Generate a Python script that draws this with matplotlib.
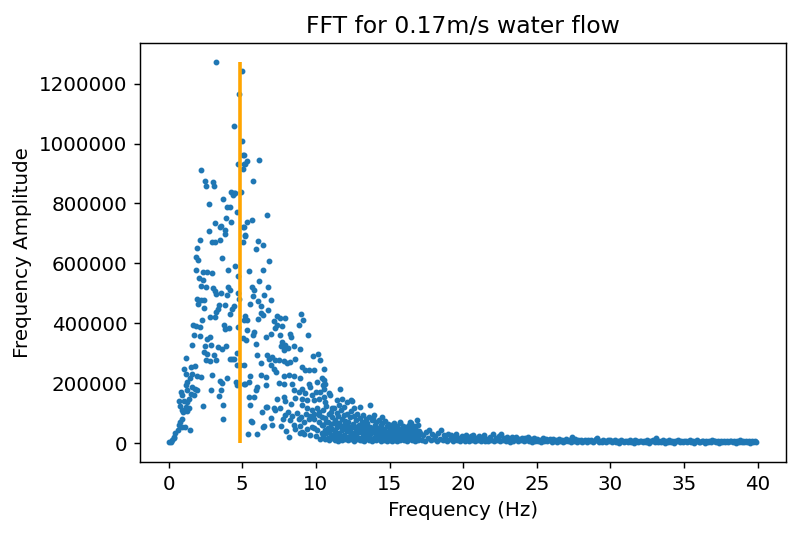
import matplotlib
matplotlib.use("Agg")
import matplotlib.pyplot as plt
import numpy as np

# amplitudes below are in thousands
title = "FFT for 0.17m/s water flow"
line_freq = 4.84   # orange marker line (Hz)

# main peak, amplitude above ~600k
peak_pts = [(3.21, 1271), (4.81, 1166), (4.95, 1243), (4.45, 1059), (5.0, 1007), (5.04, 962),
            (4.7, 931), (5.1, 931), (5.02, 915), (2.19, 913), (2.44, 874), (3.0, 873),
            (2.53, 858), (3.05, 857), (4.27, 837), (4.43, 834), (4.54, 835), (4.38, 827),
            (4.9, 838), (2.71, 799), (3.71, 816), (3.95, 788), (4.16, 787), (4.66, 773),
            (3.91, 751), (4.25, 738), (3.16, 735), (3.46, 722), (3.55, 724), (3.86, 712),
            (3.82, 698), (2.76, 709), (2.15, 679), (2.98, 673), (3.12, 672), (3.48, 678),
            (1.94, 651), (5.04, 672), (5.06, 722), (5.17, 696), (5.15, 962), (5.33, 942),
            (5.17, 931), (6.15, 945), (5.74, 874), (6.71, 761), (5.65, 744), (5.33, 738),
            (5.11, 723), (5.22, 693), (6.08, 676), (6.44, 663), (5.9, 648), (1.83, 623),
            (2.01, 610), (3.64, 618), (6.85, 607)]

# rising side, 0 - 5.2 Hz
rise_pts = [(4.54, 590), (1.83, 577), (2.35, 573), (2.62, 571), (2.92, 567), (4.02, 577),
            (4.72, 557), (2.06, 551), (2.33, 546), (2.17, 524), (2.55, 521), (3.0, 518),
            (3.14, 507), (3.23, 498), (4.04, 522), (4.16, 512), (3.59, 501), (4.72, 501),
            (3.98, 496), (1.94, 480), (2.17, 477), (1.99, 466), (2.39, 477), (4.79, 480),
            (3.86, 462), (3.41, 460), (3.34, 449), (4.43, 457), (4.32, 447), (2.39, 451),
            (4.2, 431), (3.19, 438), (2.78, 420), (3.12, 420), (2.26, 411), (1.67, 393),
            (1.83, 391), (2.12, 389), (3.75, 393), (3.86, 382), (4.09, 386), (4.7, 389),
            (1.72, 360), (2.1, 357), (2.62, 349), (2.8, 353), (1.58, 329), (2.46, 324),
            (2.89, 329), (3.34, 321), (3.64, 316), (3.93, 323), (2.39, 304), (2.62, 299),
            (1.17, 286), (3.07, 293), (3.25, 277), (2.51, 277), (2.8, 273), (4.14, 282),
            (4.32, 282), (4.47, 280), (4.66, 302), (4.61, 260), (4.88, 260), (1.49, 254),
            (1.78, 258), (1.04, 247), (1.15, 232), (1.61, 232), (1.9, 223), (2.96, 229),
            (1.45, 216), (1.27, 204), (2.17, 221), (3.98, 216), (3.48, 208), (3.64, 201),
            (4.57, 204), (4.61, 193), (5.15, 196), (1.15, 193), (1.61, 188), (1.78, 182),
            (1.94, 177), (1.27, 177), (0.81, 171), (2.85, 179), (3.59, 179), (3.44, 157),
            (0.93, 162), (1.49, 165), (1.72, 160), (0.7, 140), (1.04, 140), (1.27, 138),
            (1.38, 147), (0.77, 123), (1.15, 121), (1.38, 116), (0.93, 112), (2.31, 124),
            (3.66, 127), (1.0, 104), (1.27, 108), (3.66, 82), (0.93, 80), (0.79, 72),
            (0.72, 61), (0.93, 54), (1.14, 55), (1.45, 44), (0.61, 44), (0.46, 33),
            (0.39, 22), (0.23, 11), (0.14, 4), (0.36, 16), (0.05, 3), (5.1, 410),
            (5.04, 350), (5.1, 260)]

# shoulder, 5.2 - 10.6 Hz
shoulder_pts = [(5.44, 574), (6.39, 577), (6.17, 541), (5.67, 521), (5.79, 512), (6.76, 521),
                (5.72, 491), (6.46, 493), (6.08, 473), (6.98, 477), (5.51, 463), (6.24, 458),
                (6.73, 446), (5.22, 424), (6.28, 434), (6.39, 427), (7.37, 423), (7.59, 418),
                (7.93, 419), (9.02, 430), (9.13, 410), (8.84, 396), (5.33, 410), (6.08, 416),
                (7.14, 407), (7.37, 393), (7.71, 390), (7.25, 384), (5.33, 377), (5.79, 371),
                (5.72, 360), (6.58, 354), (6.92, 363), (7.55, 362), (8.22, 366), (8.34, 354),
                (9.44, 360), (5.27, 343), (5.95, 332), (7.71, 338), (7.93, 329), (7.66, 324),
                (8.09, 319), (8.5, 324), (7.82, 310), (8.95, 313), (5.97, 296), (6.69, 293),
                (6.8, 282), (7.03, 288), (7.2, 277), (7.48, 277), (7.82, 273), (8.05, 266),
                (8.27, 271), (8.61, 282), (9.81, 290), (10.12, 299), (10.26, 279), (6.24, 266),
                (6.92, 260), (7.14, 249), (7.32, 238), (9.06, 254), (9.29, 243), (9.51, 243),
                (9.85, 243), (5.56, 224), (6.24, 227), (6.58, 221), (7.82, 224), (8.16, 227),
                (8.5, 223), (8.9, 216), (5.22, 199), (5.49, 204), (6.01, 188), (7.48, 201),
                (7.82, 196), (8.39, 199), (9.51, 199), (9.63, 188), (10.08, 204), (10.42, 216),
                (5.9, 179), (6.58, 193), (8.5, 177), (8.84, 171), (9.06, 182), (9.29, 166),
                (9.74, 160), (10.03, 171), (10.31, 171), (5.44, 154), (5.79, 154), (7.37, 149),
                (7.82, 154), (8.61, 151), (9.06, 149), (9.4, 143), (9.85, 143), (10.19, 147),
                (10.53, 154), (5.56, 129), (6.58, 121), (7.14, 116), (7.25, 110), (7.59, 116),
                (9.06, 127), (9.4, 116), (9.74, 110), (10.08, 116), (6.35, 104), (6.92, 84),
                (7.77, 80), (8.27, 77), (8.5, 60), (8.84, 82), (9.17, 71), (9.51, 82),
                (9.74, 54), (10.19, 71), (10.42, 88), (5.61, 73), (6.42, 54), (8.61, 49),
                (9.06, 38), (9.4, 47), (9.85, 51), (10.08, 43), (5.38, 30), (5.97, 31),
                (8.2, 20), (10.31, 13), (6.48, 57), (5.69, 71), (8.93, 34), (7.9, 95),
                (8.1, 105), (8.4, 92), (8.7, 100), (9.0, 88), (9.3, 96), (9.6, 92), (9.9, 99),
                (10.2, 95), (10.4, 60), (7.6, 58), (8.0, 40), (8.9, 58), (9.2, 30), (9.6, 28),
                (10.0, 25), (10.4, 35), (10.2, 105), (9.9, 80), (8.3, 130), (7.0, 60), (6.7, 120),
                (7.9, 140), (10.53, 246), (10.58, 212), (10.64, 199), (10.49, 193), (10.53, 182),
                (10.87, 166), (10.64, 138), (11.62, 182), (11.44, 143), (11.78, 149), (12.11, 138),
                (12.41, 143), (11.1, 116), (11.55, 127), (11.89, 121), (12.56, 116), (13.02, 121),
                (13.65, 127), (14.49, 88), (15.73, 71), (16.41, 71), (16.86, 77), (13.93, 93),
                (16.43, 66), (10.99, 160), (12.45, 141)]

# dense part 10.5 - 17 Hz, three readings per bin (upper, middle, lower)
mid_freq = [10.5, 10.6, 10.7, 10.8, 10.9, 11.0, 11.1, 11.2, 11.3, 11.4, 11.5, 11.6, 11.7,
            11.8, 11.9, 12.0, 12.1, 12.2, 12.3, 12.4, 12.5, 12.6, 12.7, 12.8, 12.9, 13.0,
            13.1, 13.2, 13.3, 13.4, 13.5, 13.6, 13.7, 13.8, 13.9, 14.0, 14.1, 14.2, 14.3,
            14.4, 14.5, 14.6, 14.7, 14.8, 14.9, 15.0, 15.1, 15.2, 15.3, 15.4, 15.5, 15.6,
            15.7, 15.8, 15.9, 16.0, 16.1, 16.2, 16.3, 16.4, 16.5, 16.6, 16.7, 16.8, 16.9, 17.0]
mid_upper = [110, 84, 125, 72, 98, 105,
             88, 118, 76, 102, 92, 69, 112, 81, 95, 74,
             99, 70, 86, 108, 64, 90, 77, 96, 62, 84,
             72, 94, 58, 80, 67, 88, 55, 76, 84, 60,
             70, 52, 78, 61, 66, 48, 73, 57, 64, 50,
             62, 45, 68, 53, 58, 42, 66, 49, 56, 44,
             55, 40, 60, 47, 52, 38, 57, 44, 62, 41]
mid_middle = [60, 45, 70, 52, 38, 64,
              48, 66, 40, 55, 62, 35, 58, 44, 50, 68,
              42, 57, 36, 50, 61, 33, 46, 54, 39, 48,
              52, 31, 44, 56, 37, 47, 30, 42, 50, 34,
              40, 45, 29, 38, 48, 33, 41, 27, 36, 43,
              30, 38, 26, 35, 42, 28, 33, 37, 25, 32,
              36, 27, 31, 24, 34, 29, 22, 33, 26, 30]
mid_lower = [28, 14, 35, 19, 10, 24,
             16, 30, 12, 22, 9, 26, 18, 11, 27, 15,
             20, 10, 25, 13, 17, 9, 23, 14, 19, 11,
             12, 21, 9, 16, 24, 11, 18, 8, 15, 20,
             10, 17, 13, 8, 20, 12, 15, 9, 18, 11,
             14, 9, 19, 12, 8, 16, 11, 20, 13, 10,
             17, 9, 13, 21, 10, 15, 8, 18, 12, 14]

# flat tail 17.1 - 39.9 Hz
tail_freq = [17.1, 17.2, 17.3, 17.4, 17.5, 17.6, 17.7, 17.8, 17.9, 18.0,
             18.1, 18.2, 18.3, 18.4, 18.5, 18.6, 18.7, 18.8, 18.9, 19.0,
             19.1, 19.2, 19.3, 19.4, 19.5, 19.6, 19.7, 19.8, 19.9, 20.0,
             20.1, 20.2, 20.3, 20.4, 20.5, 20.6, 20.7, 20.8, 20.9, 21.0,
             21.1, 21.2, 21.3, 21.4, 21.5, 21.6, 21.7, 21.8, 21.9, 22.0,
             22.1, 22.2, 22.3, 22.4, 22.5, 22.6, 22.7, 22.8, 22.9, 23.0,
             23.1, 23.2, 23.3, 23.4, 23.5, 23.6, 23.7, 23.8, 23.9, 24.0,
             24.1, 24.2, 24.3, 24.4, 24.5, 24.6, 24.7, 24.8, 24.9, 25.0,
             25.1, 25.2, 25.3, 25.4, 25.5, 25.6, 25.7, 25.8, 25.9, 26.0,
             26.1, 26.2, 26.3, 26.4, 26.5, 26.6, 26.7, 26.8, 26.9, 27.0,
             27.1, 27.2, 27.3, 27.4, 27.5, 27.6, 27.7, 27.8, 27.9, 28.0,
             28.1, 28.2, 28.3, 28.4, 28.5, 28.6, 28.7, 28.8, 28.9, 29.0,
             29.1, 29.2, 29.3, 29.4, 29.5, 29.6, 29.7, 29.8, 29.9, 30.0,
             30.1, 30.2, 30.3, 30.4, 30.5, 30.6, 30.7, 30.8, 30.9, 31.0,
             31.1, 31.2, 31.3, 31.4, 31.5, 31.6, 31.7, 31.8, 31.9, 32.0,
             32.1, 32.2, 32.3, 32.4, 32.5, 32.6, 32.7, 32.8, 32.9, 33.0,
             33.1, 33.2, 33.3, 33.4, 33.5, 33.6, 33.7, 33.8, 33.9, 34.0,
             34.1, 34.2, 34.3, 34.4, 34.5, 34.6, 34.7, 34.8, 34.9, 35.0,
             35.1, 35.2, 35.3, 35.4, 35.5, 35.6, 35.7, 35.8, 35.9, 36.0,
             36.1, 36.2, 36.3, 36.4, 36.5, 36.6, 36.7, 36.8, 36.9, 37.0,
             37.1, 37.2, 37.3, 37.4, 37.5, 37.6, 37.7, 37.8, 37.9, 38.0,
             38.1, 38.2, 38.3, 38.4, 38.5, 38.6, 38.7, 38.8, 38.9, 39.0,
             39.1, 39.2, 39.3, 39.4, 39.5, 39.6, 39.7, 39.8, 39.9]
tail_amp = [35, 12, 28, 9, 38, 18, 43, 11, 30, 15,
            24, 8, 33, 14, 43, 10, 27, 19, 7, 31,
            13, 26, 8, 22, 30, 11, 18, 6, 25, 14,
            9, 28, 16, 7, 23, 12, 27, 8, 19, 10,
            24, 7, 17, 26, 9, 14, 6, 22, 11, 32,
            8, 19, 12, 25, 7, 32, 10, 18, 6, 21,
            13, 5, 20, 9, 16, 22, 7, 14, 11, 18,
            6, 17, 10, 21, 8, 13, 5, 19, 9, 15,
            7, 12, 4, 16, 9, 14, 6, 11, 15, 5,
            13, 8, 10, 4, 15, 7, 12, 5, 9, 14,
            6, 11, 4, 20, 8, 13, 3, 10, 7, 12,
            5, 9, 12, 3, 10, 6, 11, 4, 8, 13,
            17, 5, 9, 3, 11, 7, 4, 10, 6, 12,
            3, 8, 11, 5, 9, 2, 10, 6, 4, 9,
            7, 3, 10, 5, 8, 2, 11, 6, 4, 8,
            9, 3, 7, 5, 10, 2, 8, 6, 12, 4,
            16, 5, 9, 3, 7, 10, 2, 8, 5, 11,
            4, 7, 2, 9, 6, 10, 3, 8, 5, 7,
            9, 3, 6, 11, 4, 8, 2, 7, 10, 5,
            3, 8, 6, 2, 9, 5, 7, 3, 10, 6,
            8, 4, 7, 2, 9, 5, 6, 3, 8, 4,
            6, 9, 3, 7, 2, 8, 5, 10, 4, 6,
            3, 7, 5, 8, 2, 6, 4, 7, 5]

pts = peak_pts + rise_pts + shoulder_pts
freq = [p[0] for p in pts] + mid_freq * 3 + tail_freq
amp = [p[1] for p in pts] + mid_upper + mid_middle + mid_lower + tail_amp
freq = np.array(freq)
amp = np.array(amp) * 1000

plt.rcParams['font.size'] = 11
fig = plt.figure(figsize=(800 / 130, 535 / 130), dpi=130)
ax = fig.add_axes([0.175, 0.136, 0.807, 0.783])

ax.scatter(freq, amp, s=5)
ax.vlines(line_freq, 0, amp.max(), colors='orange', linewidth=2)

ax.set_title(title, fontsize=13)
ax.set_xlabel('Frequency (Hz)')
ax.set_ylabel('Frequency Amplitude')
ax.ticklabel_format(style='plain', axis='y')

fig.savefig('out.png', dpi=130)
